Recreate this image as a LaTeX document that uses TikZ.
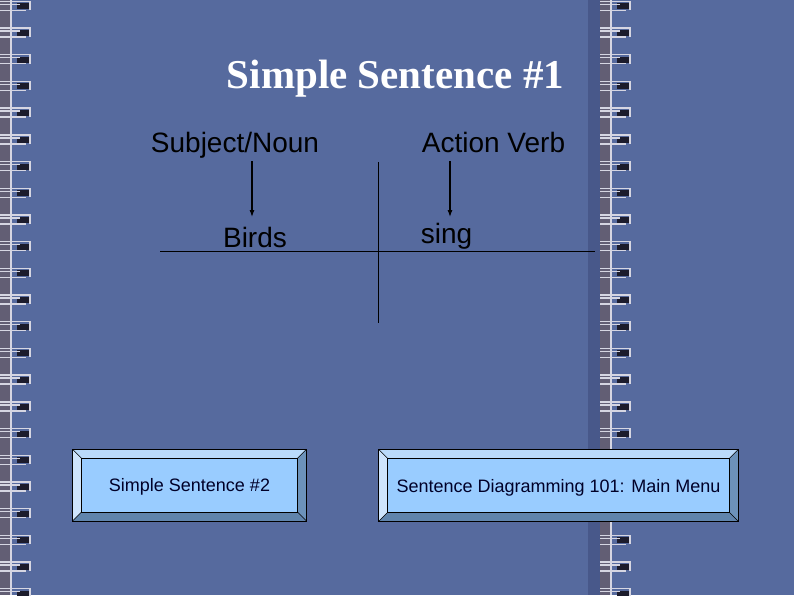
\documentclass[tikz,border=0pt]{standalone}
\usepackage{fontspec}
\setmainfont{Liberation Sans}
\newfontfamily\titlefont{Liberation Serif}
\usepackage{xcolor}
\usetikzlibrary{arrows.meta}
\definecolor{slatebg}{RGB}{86,106,158}
\definecolor{spine}{RGB}{98,94,116}
\definecolor{wirelight}{RGB}{214,214,226}
\definecolor{wiredark}{RGB}{28,28,44}
\definecolor{spineshade}{RGB}{72,88,138}
\definecolor{btnface}{RGB}{153,204,255}
\definecolor{btntop}{RGB}{186,218,250}
\definecolor{btnleft}{RGB}{206,228,252}
\definecolor{btnright}{RGB}{108,146,186}
\definecolor{btnbottom}{RGB}{96,132,172}
\definecolor{btnink}{RGB}{0,0,40}

% bevelled button: name, x1, y1, x2, y2, label
\newcommand{\navbutton}[6]{%
  \fill[btntop] (#2,#3) -- (#4,#3) -- (#4-9,#3+9) -- (#2+9,#3+9) -- cycle;
  \fill[btnleft] (#2,#3) -- (#2+9,#3+9) -- (#2+9,#5-9) -- (#2,#5) -- cycle;
  \fill[btnright] (#4,#3) -- (#4,#5) -- (#4-9,#5-9) -- (#4-9,#3+9) -- cycle;
  \fill[btnbottom] (#2,#5) -- (#2+9,#5-9) -- (#4-9,#5-9) -- (#4,#5) -- cycle;
  \fill[btnface] (#2+9,#3+9) rectangle (#4-9,#5-9);
  \draw[black, line width=0.8] (#2,#3) rectangle (#4,#5);
  \draw[black, line width=0.8] (#2+9,#3+9) rectangle (#4-9,#5-9);
  \draw[black, line width=0.5] (#2,#3) -- (#2+9,#3+9) (#4,#3) -- (#4-9,#3+9)
    (#2,#5) -- (#2+9,#5-9) (#4,#5) -- (#4-9,#5-9);
  \node[btntext] (#1) at ({(#2+#4)/2},{(#3+#5)/2+2}) {#6};
}

\begin{document}
\begin{tikzpicture}[x=1pt, y=-1pt,
  label/.style={font=\fontsize{28}{30}\selectfont, text=black, inner sep=0pt, anchor=base},
  btntext/.style={font=\fontsize{18}{20}\selectfont, text=btnink, inner sep=0pt},
  arrowline/.style={line width=1.1, -{Latex[length=7pt, width=5pt]}},
  wire/.style={wirelight, line width=1.4}]
  \useasboundingbox (0,0) rectangle (794,595);

  % Background page
  \fill[slatebg] (0,0) rectangle (794,595);

  % Spiral bindings: left edge and right of centre
  \fill[spineshade] (588,0) rectangle (600,595);
  \foreach \sx in {0, 600} {
    \fill[spine] (\sx,0) rectangle (\sx+10,595);
    \draw[wirelight, line width=1.6] (\sx+11,0) -- (\sx+11,595);
    \foreach \k [evaluate=\k as \ry using 1.3+26.7*\k] in {0,...,22} {
      \fill[wiredark] (\sx+17,\ry+2) rectangle (\sx+29,\ry+8);
      \draw[wire] (\sx,\ry) -- (\sx+30,\ry) -- (\sx+30,\ry+9);
      \draw[wire] (\sx,\ry+3) -- (\sx+20,\ry+3);
      \draw[wire] (\sx,\ry+9) -- (\sx+26,\ry+9);
    }
  }

  % Title
  \node[font=\titlefont\bfseries\fontsize{41}{44}\selectfont, text=white, inner sep=0pt, anchor=base]
    (title) at (395.5,88) {Simple Sentence \#1};

  % Part-of-speech labels
  \node[label] (noun) at (235,152) {Subject/Noun};
  \node[label] (verb) at (493.5,152) {Action Verb};

  % Sentence words
  \node[label] (birds) at (255,247) {Birds};
  \node[label] (sing) at (446.5,243) {sing};

  % Diagram base line and divider
  \draw[black, line width=0.9] (160,251.5) -- (595,251.5);
  \draw[black, line width=0.9] (378.3,162) -- (378.3,323);

  % Arrows from label to word
  \coordinate (nounTop) at (252,161);
  \coordinate (nounTip) at (252,217);
  \coordinate (verbTop) at (450,161);
  \coordinate (verbTip) at (450,217);
  \draw[arrowline] (nounTop) -- (nounTip);
  \draw[arrowline] (verbTop) -- (verbTip);

  % Navigation buttons
  \navbutton{prev}{72.5}{449.3}{306.5}{521}{Simple Sentence \#2}
  \navbutton{menu}{378.5}{449.3}{738.5}{521.5}{Sentence Diagramming 101: Main Menu}

\end{tikzpicture}
\end{document}
